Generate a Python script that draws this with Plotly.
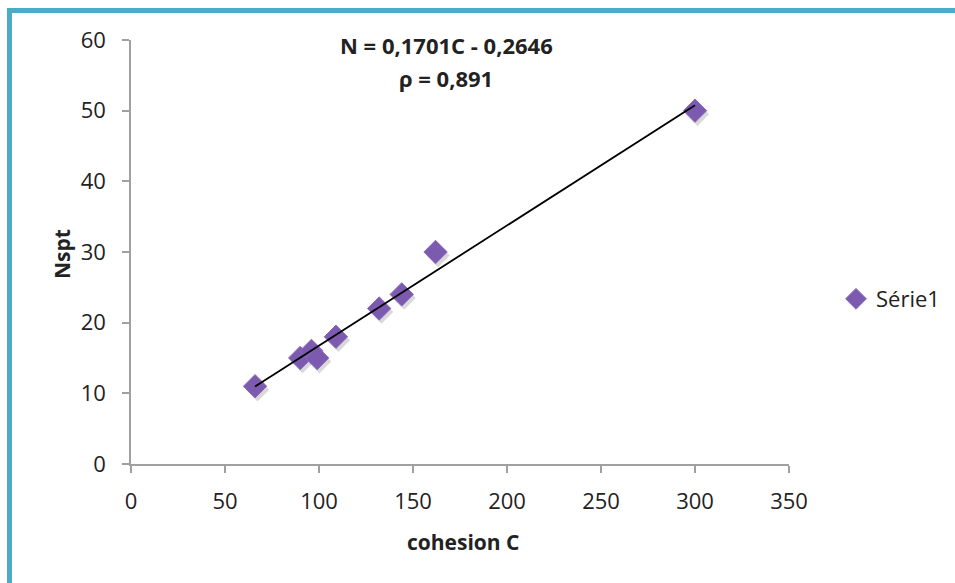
import plotly.graph_objects as go

cohesion = [66, 90, 96, 99, 109, 132, 144, 162, 300]
nspt = [11, 15, 16, 15, 18, 22, 24, 30, 50]
slope = 0.1701
intercept = -0.2646
x_ticks = [0, 50, 100, 150, 200, 250, 300, 350]
y_ticks = [0, 10, 20, 30, 40, 50, 60]

W, H = 955, 583
L, R, T, B = 131, 166, 40, 119
PW, PH = W - L - R, H - T - B


def px(xp):
    return (xp - L) / PW


def py(yp):
    return (H - B - yp) / PH


fx = [min(cohesion), max(cohesion)]
fy = [slope * v + intercept for v in fx]

font = "Open Sans, Liberation Sans, sans-serif"
col = "#222"
fig = go.Figure()
# shadow
fig.add_trace(go.Scatter(x=[v + 1.3 for v in cohesion], y=[v - 0.5 for v in nspt], mode="markers",
                         marker=dict(symbol="diamond", size=18, color="rgba(0,0,0,0.15)", line=dict(width=0)),
                         showlegend=False, hoverinfo="skip"))
fig.add_trace(go.Scatter(x=cohesion, y=nspt, mode="markers", name="Série1",
                         marker=dict(symbol="diamond", size=18, color="#7B5AB0",
                                     line=dict(width=1, color="#8A6CBE"))))
fig.add_trace(go.Scatter(x=fx, y=fy, mode="lines", line=dict(color="black", width=1.8),
                         showlegend=False, hoverinfo="skip"))

axis_common = dict(showgrid=False, zeroline=False, showline=True, linecolor="#A0A0A0", linewidth=1.5,
                   ticks="outside", tickcolor="#A0A0A0", ticklen=7, tickwidth=1.5,
                   tickfont=dict(family=font, size=22, color=col), automargin=False)
fig.update_xaxes(range=[0, 350], tickvals=x_ticks, ticktext=[str(v) for v in x_ticks],
                 ticklabelstandoff=10, **axis_common)
fig.update_yaxes(range=[0, 60], tickvals=y_ticks, ticktext=[str(v) for v in y_ticks],
                 ticklabelstandoff=12, **axis_common)

ann = dict(xref="paper", yref="paper", showarrow=False, xanchor="center", yanchor="middle")
fig.update_layout(
    width=W, height=H, margin=dict(l=L, r=R, t=T, b=B, autoexpand=False),
    paper_bgcolor="white", plot_bgcolor="white",
    legend=dict(xref="container", yref="container", x=836 / W, y=1 - 299 / H, xanchor="left", yanchor="middle",
                font=dict(family=font, size=22, color=col), itemwidth=30),
    annotations=[
        dict(x=px(446), y=py(45), text="<b>N = 0,1701C - 0,2646</b>", font=dict(family=font, size=22, color=col), **ann),
        dict(x=px(446), y=py(78), text="<b>ρ = 0,891</b>", font=dict(family=font, size=22, color=col), **ann),
        dict(x=px(463), y=py(542), text="<b>cohesion C</b>", font=dict(family=font, size=21, color=col), **ann),
        dict(x=px(62), y=py(254), text="<b>Nspt</b>", textangle=-90, font=dict(family=font, size=21, color=col), **ann),
    ],
    shapes=[dict(type="rect", xref="paper", yref="paper",
                 x0=px(9.5), x1=px(W + 20), y0=py(H + 20), y1=py(10.5),
                 line=dict(color="#4BACC6", width=5), layer="below")],
)
fig.write_html("out.html")
